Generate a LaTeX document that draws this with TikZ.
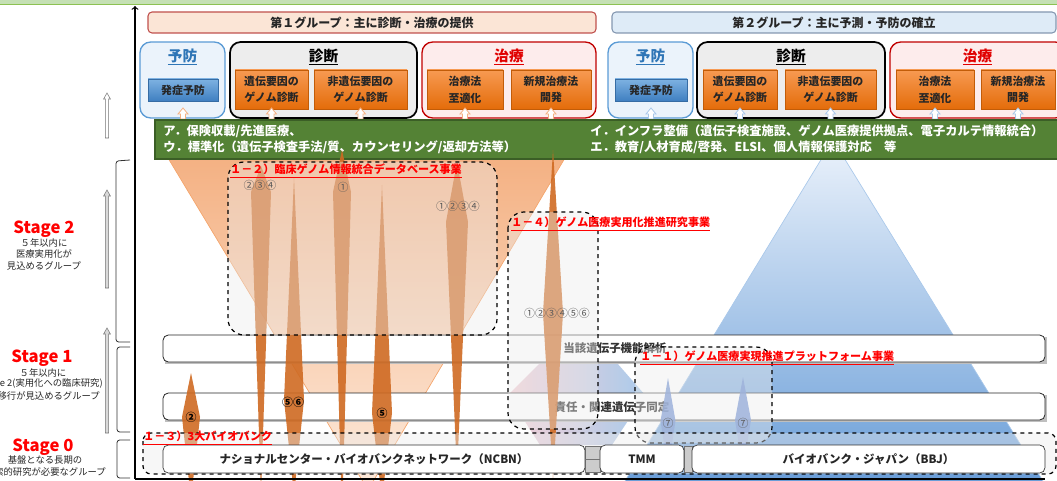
\documentclass[tikz,border=0pt]{standalone}
\usepackage{fontspec}
\setmainfont{Noto Sans CJK JP}

\definecolor{topgreen}{HTML}{C5E0B4}
\definecolor{topgreenline}{HTML}{8CC152}
\definecolor{grpA}{HTML}{FBE5D6}
\definecolor{grpAline}{HTML}{C0504D}
\definecolor{grpB}{HTML}{DEEBF7}
\definecolor{grpBline}{HTML}{8497B0}
\definecolor{yoboline}{HTML}{5B9BD5}
\definecolor{yobofill}{HTML}{EBF3FB}
\definecolor{yobotext}{HTML}{2E75B6}
\definecolor{shindanfill}{HTML}{EDEDED}
\definecolor{chiryoline}{HTML}{C00000}
\definecolor{chiryofill}{HTML}{FDECEC}
\definecolor{chiryotext}{HTML}{E00000}
\definecolor{orangetop}{HTML}{F79A52}
\definecolor{orangebot}{HTML}{E46C0A}
\definecolor{btntop}{HTML}{7EB2E2}
\definecolor{btnbot}{HTML}{3F7FC1}
\definecolor{taskfill}{HTML}{548235}
\definecolor{taskline}{HTML}{3B5E26}
\definecolor{funneltop}{HTML}{F4B183}
\definecolor{funnelbot}{HTML}{FDEBDD}
\definecolor{funneledge}{HTML}{F4A46A}
\definecolor{pyrtop}{HTML}{EBF2FB}
\definecolor{pyrbot}{HTML}{6A9ED8}
\definecolor{pyredge}{HTML}{A9C8EA}
\definecolor{hexpink}{HTML}{F2C6CE}
\definecolor{hexblue}{HTML}{9CC2E8}
\definecolor{spikeorange}{HTML}{CF6A22}
\definecolor{spikeblue}{HTML}{6C8DD0}
\definecolor{labelred}{HTML}{FF0000}

\tikzset{
  grpbox/.style={rounded corners=3pt, line width=0.8pt},
  catbox/.style={rounded corners=8pt, line width=1pt},
  orangebox/.style={top color=orangetop, bottom color=orangebot, draw=orangebot!85!black, line width=0.3pt},
  bluebtn/.style={top color=btntop, bottom color=btnbot, draw=btnbot!85!black, line width=0.3pt},
  uparrowA/.style={draw=funneltop, fill=white, line width=0.6pt},
  uparrowB/.style={draw=pyredge, fill=white, line width=0.6pt},
  widebar/.style={draw=black!85, fill=white, rounded corners=4pt, line width=0.6pt},
  orangespike/.style={fill=spikeorange, fill opacity=0.9},
  bluespike/.style={fill=spikeblue, fill opacity=0.85},
  dashbox/.style={draw=black, dashed, line width=0.9pt, rounded corners=12pt, fill=black!8, fill opacity=0.4},
  basebox/.style={draw=black!80, fill=white, rounded corners=4pt, line width=0.5pt, inner sep=0pt,
    font=\fontsize{8.6}{10}\selectfont\bfseries, text=black!85},
  linkpipe/.style={draw=black!55, fill=black!20, line width=0.4pt},
  hdtext/.style={inner sep=0pt, font=\fontsize{9}{10}\selectfont\bfseries, text=black!85},
  cattitle/.style={inner sep=0pt, font=\fontsize{11}{12}\selectfont\bfseries},
  boxtext/.style={inner sep=0pt, align=center, font=\fontsize{8.2}{12.5}\selectfont\bfseries, text=black!85},
  tasktext/.style={inner sep=0pt, anchor=west, font=\fontsize{9.2}{10}\selectfont\bfseries, text=white},
  bandtext/.style={inner sep=0pt, font=\fontsize{8.6}{10}\selectfont\bfseries, text=black!80},
  projlabel/.style={inner sep=0pt, anchor=west, font=\fontsize{8.3}{10}\selectfont\bfseries, text=labelred},
  numgray/.style={inner sep=0pt, font=\fontsize{8.2}{10}\selectfont, text=black!65},
  numblack/.style={inner sep=0pt, font=\fontsize{8.2}{10}\selectfont\bfseries, text=black},
  stagehead/.style={inner sep=0pt, font=\fontsize{12.5}{12}\selectfont\bfseries, text=labelred},
  stagesub/.style={inner sep=0pt, font=\fontsize{7}{8.6}\selectfont, text=black!85},
  stagearrow/.style={draw=black!55, line width=0.4pt},
  bracketline/.style={draw=black!80, line width=0.6pt, rounded corners=2pt}
}

\begin{document}
\begin{tikzpicture}[x=0.75pt,y=-0.75pt]
\useasboundingbox (0,0) rectangle (1057,481);

% top strip
\fill[topgreen] (0,0) rectangle (1057,4);
\draw[topgreenline] (0,4) -- (1057,4);

% funnel and pyramid
\shade[top color=funneltop, bottom color=funnelbot] (168,158) -- (565,158) -- (368,490) -- cycle;
\draw[funneledge, line width=0.5pt] (168,158) -- (368,490) -- (565,158);
\shade[top color=pyrtop, bottom color=pyrbot] (833,140) -- (1043,481) -- (625,481) -- cycle;
\draw[pyredge, line width=0.5pt] (625,481) -- (833,140) -- (1043,481);
\shade[left color=hexpink, right color=hexblue, opacity=0.85] (508,395) -- (548,355) -- (610,355) -- (645,395) -- (612,445) -- (540,445) -- cycle;

% group headers
\draw[grpbox, fill=grpA, draw=grpAline] (148,12) rectangle (596,33);
\node[hdtext] (grp1) at (372,22.5) {第１グループ：主に診断・治療の提供};
\draw[grpbox, fill=grpB, draw=grpBline] (612,12) rectangle (1056,33);
\node[hdtext] (grp2) at (834,22.5) {第２グループ：主に予測・予防の確立};

% categories, group 1
\draw[catbox, draw=yoboline, fill=yobofill] (140,42) rectangle (225,118);
\draw[catbox, draw=black, line width=1.3pt, fill=shindanfill] (230,42) rectangle (417,118);
\draw[catbox, draw=chiryoline, fill=chiryofill] (422,42) rectangle (596,118);
\node[cattitle, text=yobotext] (yobo1) at (182.5,57) {\underline{予防}};
\node[cattitle, text=black] (shin1) at (323.5,57) {\underline{診断}};
\node[cattitle, text=chiryotext] (chi1) at (509,57) {\underline{治療}};
\path[bluebtn] (148,79) rectangle (218,101);
\node[boxtext] (hassho1) at (183,90) {発症予防};
\path[orangebox] (235,70) rectangle (308,109);
\node[boxtext] (iden1) at (271.5,89.5) {遺伝要因の\\ゲノム診断};
\path[orangebox] (314,70) rectangle (407,109);
\node[boxtext] (hiiden1) at (360.5,89.5) {非遺伝要因の\\ゲノム診断};
\path[orangebox] (427,70) rectangle (503,109);
\node[boxtext] (saiteki1) at (465,89.5) {治療法\\至適化};
\path[orangebox] (511,70) rectangle (591,109);
\node[boxtext] (shinki1) at (551,89.5) {新規治療法\\開発};

% categories, group 2
\draw[catbox, draw=yoboline, fill=yobofill] (608,42) rectangle (693,118);
\draw[catbox, draw=black, line width=1.3pt, fill=shindanfill] (697,42) rectangle (885,118);
\draw[catbox, draw=chiryoline, fill=chiryofill] (890,42) rectangle (1066,118);
\node[cattitle, text=yobotext] (yobo2) at (650.5,57) {\underline{予防}};
\node[cattitle, text=black] (shin2) at (791,57) {\underline{診断}};
\node[cattitle, text=chiryotext] (chi2) at (977.5,57) {\underline{治療}};
\path[bluebtn] (615,79) rectangle (687,101);
\node[boxtext] (hassho2) at (651,90) {発症予防};
\path[orangebox] (703,70) rectangle (777,109);
\node[boxtext] (iden2) at (740,89.5) {遺伝要因の\\ゲノム診断};
\path[orangebox] (785,70) rectangle (876,109);
\node[boxtext] (hiiden2) at (830.5,89.5) {非遺伝要因の\\ゲノム診断};
\path[orangebox] (896,70) rectangle (974,109);
\node[boxtext] (saiteki2) at (935,89.5) {治療法\\至適化};
\path[orangebox] (981,70) rectangle (1055,109);
\node[boxtext] (shinki2) at (1018,89.5) {新規治療法\\開発};

% small up arrows
\foreach \x in {183,271.5,360.5,465,551}
  \draw[uparrowA] ({\x-2.5},119) -- ({\x-2.5},114) -- ({\x-5},114) -- (\x,108) -- ({\x+5},114) -- ({\x+2.5},114) -- ({\x+2.5},119) -- cycle;
\foreach \x in {651,740,830.5,935,1018}
  \draw[uparrowB] ({\x-2.5},119) -- ({\x-2.5},114) -- ({\x-5},114) -- (\x,108) -- ({\x+5},114) -- ({\x+2.5},114) -- ({\x+2.5},119) -- cycle;

% tasks bar
\draw[fill=taskfill, draw=taskline, line width=0.8pt] (155,120) rectangle (1062,159);
\node[tasktext] (taskA) at (163,131) {ア．保険収載/先進医療、};
\node[tasktext] (taskC) at (163,147) {ウ．標準化（遺伝子検査手法/質、カウンセリング/返却方法等）};
\node[tasktext] (taskB) at (590,131) {イ．インフラ整備（遺伝子検査施設、ゲノム医療提供拠点、電子カルテ情報統合）};
\node[tasktext] (taskD) at (590,147) {エ．教育/人材育成/啓発、ELSI、個人情報保護対応　等};

% wide bars
\fill[black!25] (165,337) rectangle (1047,364);
\draw[widebar] (163,335) rectangle (1045,362);
\fill[black!25] (165,395) rectangle (1047,422);
\draw[widebar] (163,393) rectangle (1045,420);
\node[bandtext] (kino) at (615,348.5) {当該遺伝子機能解析};
\node[bandtext] (doutei) at (612,407) {責任・関連遺伝子同定};

% spikes
\foreach \x/\t/\m/\b/\w in {261/166/192/495/10, 294/178/400/495/10, 342/150/192/520/9,
    382/185/413/500/10, 457/162/222/475/11, 191/373/417/500/9, 553/150/313/478/10}
  \fill[orangespike] (\x,\t) -- ({\x+\w},\m) -- (\x,\b) -- ({\x-\w},\m) -- cycle;
\foreach \x/\t/\m/\b/\w in {668/378/421/470/7.5, 743/377/420/470/8}
  \fill[bluespike] (\x,\t) -- ({\x+\w},\m) -- (\x,\b) -- ({\x-\w},\m) -- cycle;

% project boxes
\draw[dashbox] (228,162) rectangle (497,335);
\draw[dashbox] (508,212) rectangle (598,429);
\draw[dashbox] (635,347) rectangle (772,443);
\draw[dashbox, rounded corners=6pt] (143,433) rectangle (1056,474);

% biobanks
\draw[linkpipe] (585,446) rectangle (600,472);
\draw[linkpipe] (684,446) rectangle (692,472);
\node[basebox, minimum width=316.5pt, minimum height=21pt] (ncbn) at (374,459) {ナショナルセンター・バイオバンクネットワーク（NCBN）};
\node[basebox, minimum width=63pt, minimum height=21pt] (tmm) at (642,459) {TMM};
\node[basebox, minimum width=264.75pt, minimum height=21pt] (bbj) at (868.5,459) {バイオバンク・ジャパン（BBJ）};
\draw[black!55, line width=0.4pt] (ncbn.east) -- (tmm.west);

% project labels
\node[projlabel] (p12) at (230,171) {\underline{１－２）臨床ゲノム情報統合データベース事業}};
\node[projlabel] (p14) at (511,224) {\underline{１－４）ゲノム医療実用化推進研究事業}};
\node[projlabel] (p11) at (640,358) {\underline{１－１）ゲノム医療実現推進プラットフォーム事業}};
\node[projlabel] (p13) at (143,438) {\underline{１－３）3大バイオバンク}};

% numbers on spikes
\node[numgray] (n234) at (260,185) {②③④};
\node[numgray] (n1) at (343,187) {①};
\node[numgray] (n1234) at (458,206) {①②③④};
\node[numblack] (n56) at (293,402) {⑤⑥};
\node[numblack] (n5) at (382,413) {⑤};
\node[numblack] (n2) at (191,417) {②};
\node[numgray] (n123456) at (557,313) {①②③④⑤⑥};
\node[numgray] (n7a) at (668,423) {⑦};
\node[numgray] (n7b) at (743,423) {⑦};

% axis
\coordinate (axbot) at (135,479);
\coordinate (axtop) at (135,6);
\coordinate (axright) at (1045,479);
\draw[black, line width=0.9pt, ->] (axbot) -- (axtop);
\draw[black, line width=0.9pt] (axbot) -- (axright);

% stage brackets and arrows
\draw[bracketline] (130,160) -- (116,161) -- (116,342) -- (130,342);
\draw[bracketline] (130,347) -- (117,347) -- (117,432) -- (130,432);
\draw[bracketline] (130,440) -- (117,440) -- (117,478) -- (130,478);
\foreach \t/\b/\c in {93/138/white, 190/288/black!15, 328/433/black!15}
  \draw[stagearrow, fill=\c] (105.3,\b) -- (105.3,{\t+6}) -- (103.6,{\t+6}) -- (107,\t) -- (110.4,{\t+6}) -- (108.7,{\t+6}) -- (108.7,\b) -- cycle;

% stage texts
\node[stagehead] (st2) at (44,229) {Stage 2};
\node[stagesub, align=center, anchor=north] (st2sub) at (44,238) {５年以内に\\医療実用化が\\見込めるグループ};
\node[stagehead] (st1) at (42,358) {Stage 1};
\node[stagesub] (st1a) at (43,373) {５年以内に};
\node[stagesub, anchor=east] (st1b) at (103,384) {Stage 2(実用化への臨床研究)};
\node[stagesub, anchor=east] (st1c) at (100,395.5) {へ移行が見込めるグループ};
\node[stagehead] (st0) at (43,447) {Stage 0};
\node[stagesub] (st0a) at (45,460) {基盤となる長期の};
\node[stagesub, anchor=east] (st0b) at (106,472) {探索的研究が必要なグループ};
\end{tikzpicture}
\end{document}
